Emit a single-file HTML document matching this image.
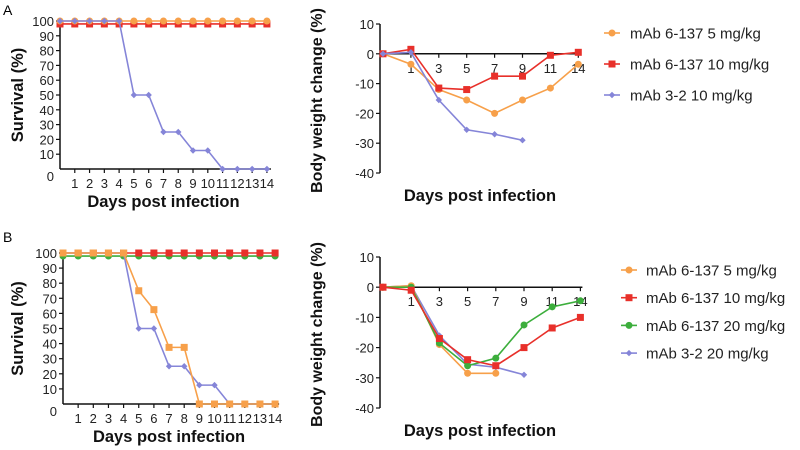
<!DOCTYPE html>
<html><head><meta charset="utf-8"><style>
body{margin:0;background:#fff;}
svg{display:block;font-family:"Liberation Sans",Arial,sans-serif;}
</style></head><body>
<svg id="fig" width="800" height="450" viewBox="0 0 800 450" xmlns="http://www.w3.org/2000/svg">
<text x="3" y="15" font-size="14">A</text>
<text x="3" y="242" font-size="14">B</text>
</svg>
<script>
const survDays=[0,1,2,3,4,5,6,7,8,9,10,11,12,13,14];
const survTicks=[0,10,20,30,40,50,60,70,80,90,100];
const survA_orange=[100,100,100,100,100,100,100,100,100,100,100,100,100,100,100];
const survA_red=[98,98,98,98,98,98,98,98,98,98,98,98,98,98,98];
const survA_purple=[100,100,100,100,100,50,50,25,25,12.5,12.5,0,0,0,0];
const survB_orange=[100,100,100,100,100,75,62.5,37.5,37.5,0,0,0,0,0,0];
const survB_red=[100,100,100,100,100,100,100,100,100,100,100,100,100,100,100];
const survB_green=[98,98,98,98,98,98,98,98,98,98,98,98,98,98,98];
const survB_purple=[100,100,100,100,100,50,50,25,25,12.5,12.5,0,0,0,0];
const wtDays=["0","1","3","5","7","9","11","14"];
const wtTicks=[10,0,-10,-20,-30,-40];
const wtA_orange=[0,-3.5,-12,-15.5,-20,-15.5,-11.5,-3.5];
const wtA_red=[0,1.5,-11.5,-12,-7.5,-7.5,-0.5,0.5];
const wtA_purple=[0,0.5,-15.5,-25.5,-27,-29];
const wtB_orange=[0,0.5,-19,-28.5,-28.5];
const wtB_red=[0,-1,-17,-24,-26,-20,-13.5,-10];
const wtB_green=[0,0,-18.5,-26,-23.5,-12.5,-6.5,-4.5];
const wtB_purple=[0,0.5,-16,-25.5,-26.5,-29];
const legA=["mAb 6-137 5 mg/kg","mAb 6-137 10 mg/kg","mAb 3-2 10 mg/kg"];
const legB=["mAb 6-137 5 mg/kg","mAb 6-137 10 mg/kg","mAb 6-137 20 mg/kg","mAb 3-2 20 mg/kg"];

const C={orange:"#f7a04a",red:"#e8302a",purple:"#8585d8",green:"#3cae3c"};
const NS="http://www.w3.org/2000/svg";
const svg=document.getElementById("fig");
function el(tag,attrs,parent){const e=document.createElementNS(NS,tag);for(const k in attrs)e.setAttribute(k,attrs[k]);(parent||svg).appendChild(e);return e;}
function txt(x,y,s,attrs,parent){const t=el("text",Object.assign({x:x,y:y},attrs),parent);t.textContent=s;return t;}

function marker(g,shape,x,y,color){
  let m;
  if(shape==="sq") m=el("rect",{x:x-3.5,y:y-3.5,width:7,height:7,fill:color},g);
  else if(shape==="dia") m=el("path",{d:`M${x} ${y-3.2}L${x+3.2} ${y}L${x} ${y+3.2}L${x-3.2} ${y}Z`,fill:color},g);
  else m=el("circle",{cx:x,cy:y,r:3.5,fill:color},g);
  
  
}
function series(name,xs,ys,vals,color,shape){
  const g=el("g",{});
  
  
  let d="";
  vals.forEach((v,i)=>{d+=(i?"L":"M")+xs(i)+" "+ys(v);});
  el("path",{d:d,fill:"none",stroke:color,"stroke-width":1.6},g);
  vals.forEach((v,i)=>marker(g,shape,xs(i),ys(v),color));
}

function survival(prefix,x0,step,yTop,yBot,list){
  const xs=i=>x0+survDays[i]*step;
  const ys=v=>yBot-(v/100)*(yBot-yTop);
  const ax=el("g",{});
  
  
  el("line",{x1:x0,y1:yTop-2,x2:x0,y2:yBot,stroke:"#111","stroke-width":1.5},ax);
  el("line",{x1:x0,y1:yBot,x2:x0+14*step+4,y2:yBot,stroke:"#111","stroke-width":1.5},ax);
  survTicks.forEach(t=>{
    if(t>0) el("line",{x1:x0-4,y1:ys(t),x2:x0,y2:ys(t),stroke:"#111","stroke-width":1.2},ax);
    txt(x0-6,(t===0?yBot+12:ys(t)+5),String(t),{"font-size":13,"text-anchor":"end",fill:"#222"},ax);
  });
  survDays.forEach(d=>{
    if(d===0)return;
    el("line",{x1:x0+d*step,y1:yBot,x2:x0+d*step,y2:yBot+4,stroke:"#111","stroke-width":1.2},ax);
    txt(x0+d*step,yBot+19,String(d),{"font-size":13,"text-anchor":"middle",fill:"#222"},ax);
  });
  txt(x0+7*step,yBot+38,"Days post infection",{"font-size":16.5,"font-weight":"bold","text-anchor":"middle",fill:"#111"},ax);
  const cy=(yTop+yBot)/2;
  txt(0,0,"Survival (%)",{"font-size":16.5,"font-weight":"bold","text-anchor":"middle",fill:"#111",transform:`translate(23 ${cy}) rotate(-90)`},ax);
  list.forEach(s=>series(prefix+'-'+s[0],xs,ys,s[1],s[2],s[3]));
}

function weight(prefix,xAxis,x0,step,y10,yN40,list){
  const ys=v=>y10+(10-v)/50*(yN40-y10);
  const xs=i=>x0+i*step;
  const ax=el("g",{});
  
  
  el("line",{x1:xAxis,y1:y10,x2:xAxis,y2:yN40,stroke:"#111","stroke-width":1.5},ax);
  el("line",{x1:xAxis,y1:ys(0),x2:x0+7*step+2,y2:ys(0),stroke:"#111","stroke-width":1.5},ax);
  wtTicks.forEach(t=>{
    el("line",{x1:xAxis-4,y1:ys(t),x2:xAxis,y2:ys(t),stroke:"#111","stroke-width":1.2},ax);
    txt(xAxis-6,ys(t)+5,String(t),{"font-size":13,"text-anchor":"end",fill:"#222"},ax);
  });
  wtDays.forEach((d,i)=>{
    if(i===0)return;
    el("line",{x1:xs(i),y1:ys(0),x2:xs(i),y2:ys(0)+4,stroke:"#111","stroke-width":1.2},ax);
    txt(xs(i),ys(0)+19,d,{"font-size":13,"text-anchor":"middle",fill:"#222"},ax);
  });
  txt(xAxis+100,yN40+28,"Days post infection",{"font-size":16.5,"font-weight":"bold","text-anchor":"middle",fill:"#111"},ax);
  txt(0,0,"Body weight change (%)",{"font-size":16,"font-weight":"bold","text-anchor":"middle",fill:"#111",transform:`translate(322 ${(y10+yN40)/2+2}) rotate(-90)`},ax);
  list.forEach(s=>series(prefix+'-'+s[0],xs,ys,s[1],s[2],s[3]));
}

function legend(prefix,mx,tx,y0,dy,labels,styles){
  labels.forEach((l,i)=>{
    const g=el("g",{});
    
    
    const y=y0+i*dy;
    el("line",{x1:mx,y1:y,x2:mx+16,y2:y,stroke:styles[i][0],"stroke-width":1.6},g);
    marker(g,styles[i][1],mx+8,y,styles[i][0]);
    txt(tx,y+5.5,l,{"font-size":15,fill:"#222"},g);
  });
}

survival("survival-a",60,14.78,21,169,[["mab-6-137-10",survA_red,C.red,"sq"],["mab-6-137-5",survA_orange,C.orange,"circ"],["mab-3-2-10",survA_purple,C.purple,"dia"]]);
survival("survival-b",63,15.15,253,404,[["mab-6-137-20",survB_green,C.green,"circ"],["mab-6-137-10",survB_red,C.red,"sq"],["mab-3-2-20",survB_purple,C.purple,"dia"],["mab-6-137-5",survB_orange,C.orange,"sq"]]);
weight("weight-a",380,383,27.9,24,173,[["mab-6-137-5",wtA_orange,C.orange,"circ"],["mab-6-137-10",wtA_red,C.red,"sq"],["mab-3-2-10",wtA_purple,C.purple,"dia"]]);
weight("weight-b",380,383,28.2,257,408,[["mab-3-2-20",wtB_purple,C.purple,"dia"],["mab-6-137-5",wtB_orange,C.orange,"circ"],["mab-6-137-20",wtB_green,C.green,"circ"],["mab-6-137-10",wtB_red,C.red,"sq"]]);
legend("weight-a",604,630,33,31,legA,[[C.orange,"circ"],[C.red,"sq"],[C.purple,"dia"]]);
legend("weight-b",621,646,270,27.7,legB,[[C.orange,"circ"],[C.red,"sq"],[C.green,"circ"],[C.purple,"dia"]]);
</script>
</body></html>
